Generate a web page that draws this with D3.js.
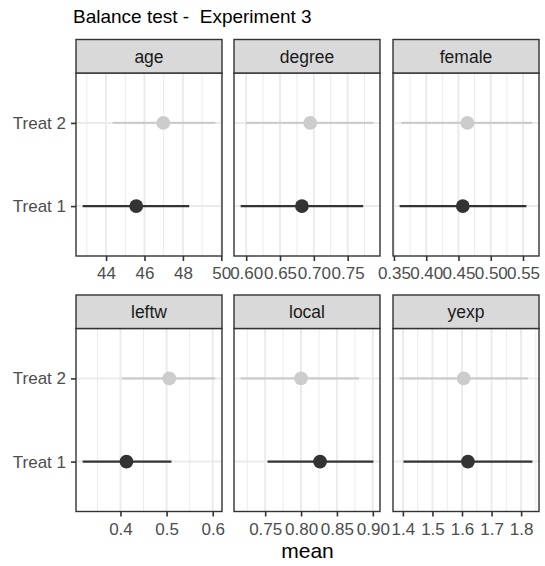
<!DOCTYPE html>
<html>
<head>
<meta charset="utf-8">
<script src="https://cdn.jsdelivr.net/npm/d3@7"></script>
<style>
  html, body { margin: 0; padding: 0; background: #ffffff; }
  svg { display: block; font-family: "Liberation Sans", Arial, Helvetica, sans-serif; }
  .title { white-space: pre; }
</style>
</head>
<body>
<svg id="chart" width="545" height="566"></svg>
<script>
// ---- data ----
const title = "Balance test -  Experiment 3";
const xTitle = "mean";
const variables = ["age", "degree", "female", "leftw", "local", "yexp"];
const groups = ["Treat 1", "Treat 2"];
const meanT1 = [45.57, 0.6824, 0.4567, 0.413, 0.8265, 1.620];
const lowT1  = [42.78, 0.5918, 0.3588, 0.318, 0.7533, 1.402];
const highT1 = [48.33, 0.7730, 0.5553, 0.5105, 0.9008, 1.838];
const meanT2 = [46.98, 0.6947, 0.4638, 0.5058, 0.800, 1.6057];
const lowT2  = [44.34, 0.5996, 0.3614, 0.403, 0.7158, 1.389];
const highT2 = [49.69, 0.7880, 0.5645, 0.6057, 0.8806, 1.8235];
const tickValues = [
  [44, 46, 48, 50],
  [0.60, 0.65, 0.70, 0.75],
  [0.35, 0.40, 0.45, 0.50, 0.55],
  [0.4, 0.5, 0.6],
  [0.75, 0.80, 0.85, 0.90],
  [1.4, 1.5, 1.6, 1.7, 1.8]
];
const tickLabels = [
  ["44", "46", "48", "50"],
  ["0.60", "0.65", "0.70", "0.75"],
  ["0.35", "0.40", "0.45", "0.50", "0.55"],
  ["0.4", "0.5", "0.6"],
  ["0.75", "0.80", "0.85", "0.90"],
  ["1.4", "1.5", "1.6", "1.7", "1.8"]
];
const groupColors = { "Treat 1": "#333333", "Treat 2": "#cccccc" };

// ---- layout ----
const colLeft = [76, 234, 393];
const panelW = 146;
const stripTop = [39.5, 295];
const stripH = 33.5;
const panelH = 183;

const svg = d3.select("#chart");
svg.append("rect").attr("width", 545).attr("height", 566).attr("fill", "#ffffff");

svg.append("text")
  .attr("class", "title")
  .attr("x", 73).attr("y", 23)
  .attr("font-size", 19).attr("fill", "#000000")
  .attr("xml:space", "preserve")
  .text(title);

variables.forEach((v, i) => {
  const col = i % 3, row = Math.floor(i / 3);
  const x0 = colLeft[col];
  const sTop = stripTop[row];
  const pTop = sTop + stripH;
  const pBot = pTop + panelH;

  const rows = [
    { g: "Treat 1", m: meanT1[i], lo: lowT1[i], hi: highT1[i] },
    { g: "Treat 2", m: meanT2[i], lo: lowT2[i], hi: highT2[i] }
  ];
  const mn = d3.min(rows, d => d.lo), mx = d3.max(rows, d => d.hi);
  const pad = (mx - mn) * 0.05;
  const x = d3.scaleLinear().domain([mn - pad, mx + pad]).range([x0, x0 + panelW]);
  const y = d3.scalePoint().domain(groups.slice().reverse()).range([pTop, pBot]).padding(0.6);

  const gp = svg.append("g");
  gp.append("rect").attr("x", x0).attr("y", pTop).attr("width", panelW).attr("height", panelH)
    .attr("fill", "#ffffff");

  // grid lines
  const ticks = tickValues[i];
  const step = ticks[1] - ticks[0];
  const dom = x.domain();
  const minor = [];
  for (let k = -1; k < ticks.length; k++) {
    const mv = ticks[0] + step * (k + 0.5);
    if (mv >= dom[0] && mv <= dom[1]) minor.push(mv);
  }
  gp.selectAll(".minor").data(minor).join("line")
    .attr("x1", d => x(d)).attr("x2", d => x(d))
    .attr("y1", pTop).attr("y2", pBot)
    .attr("stroke", "#ebebeb").attr("stroke-width", 1);
  gp.selectAll(".major").data(ticks.filter(t => t >= dom[0] && t <= dom[1])).join("line")
    .attr("x1", d => x(d)).attr("x2", d => x(d))
    .attr("y1", pTop).attr("y2", pBot)
    .attr("stroke", "#ebebeb").attr("stroke-width", 2);
  gp.selectAll(".hmajor").data(groups).join("line")
    .attr("x1", x0).attr("x2", x0 + panelW)
    .attr("y1", d => y(d)).attr("y2", d => y(d))
    .attr("stroke", "#ebebeb").attr("stroke-width", 2);

  // pointranges
  gp.selectAll(".err").data(rows).join("line")
    .attr("x1", d => x(d.lo)).attr("x2", d => x(d.hi))
    .attr("y1", d => y(d.g)).attr("y2", d => y(d.g))
    .attr("stroke", d => groupColors[d.g]).attr("stroke-width", 2.2);
  gp.selectAll(".pt").data(rows).join("circle")
    .attr("cx", d => x(d.m)).attr("cy", d => y(d.g)).attr("r", 6.9)
    .attr("fill", d => groupColors[d.g]);

  // panel border
  gp.append("rect").attr("x", x0).attr("y", pTop).attr("width", panelW).attr("height", panelH)
    .attr("fill", "none").attr("stroke", "#333333").attr("stroke-width", 1.4);

  // strip
  gp.append("rect").attr("x", x0).attr("y", sTop).attr("width", panelW).attr("height", stripH)
    .attr("fill", "#d9d9d9").attr("stroke", "#333333").attr("stroke-width", 1.4);
  gp.append("text").attr("x", x0 + panelW / 2).attr("y", sTop + stripH / 2)
    .attr("dy", "0.36em").attr("text-anchor", "middle")
    .attr("font-size", 17.5).attr("fill", "#1a1a1a").text(v);

  // x axis
  const ax = d3.axisBottom(x).tickValues(ticks)
    .tickFormat((d, k) => tickLabels[i][k]).tickSize(5).tickSizeOuter(0).tickPadding(6);
  const ag = svg.append("g").attr("transform", `translate(0,${pBot})`).call(ax);
  ag.select(".domain").remove();
  ag.selectAll(".tick line").attr("stroke", "#333333").attr("stroke-width", 1.6);
  ag.selectAll(".tick text").attr("font-size", 17).attr("fill", "#4d4d4d")
    .attr("font-family", "Liberation Sans, Arial, sans-serif");

  // y axis on first column
  if (col === 0) {
    const ay = d3.axisLeft(y).tickSize(5).tickPadding(5);
    const yg = svg.append("g").attr("transform", `translate(${x0},0)`).call(ay);
    yg.select(".domain").remove();
    yg.selectAll(".tick line").attr("stroke", "#333333").attr("stroke-width", 1.6);
    yg.selectAll(".tick text").attr("font-size", 17).attr("fill", "#4d4d4d")
      .attr("font-family", "Liberation Sans, Arial, sans-serif");
  }
});

svg.append("text")
  .attr("x", (colLeft[0] + colLeft[2] + panelW) / 2).attr("y", 558)
  .attr("text-anchor", "middle").attr("font-size", 21).attr("fill", "#000000")
  .text(xTitle);
</script>
</body>
</html>
